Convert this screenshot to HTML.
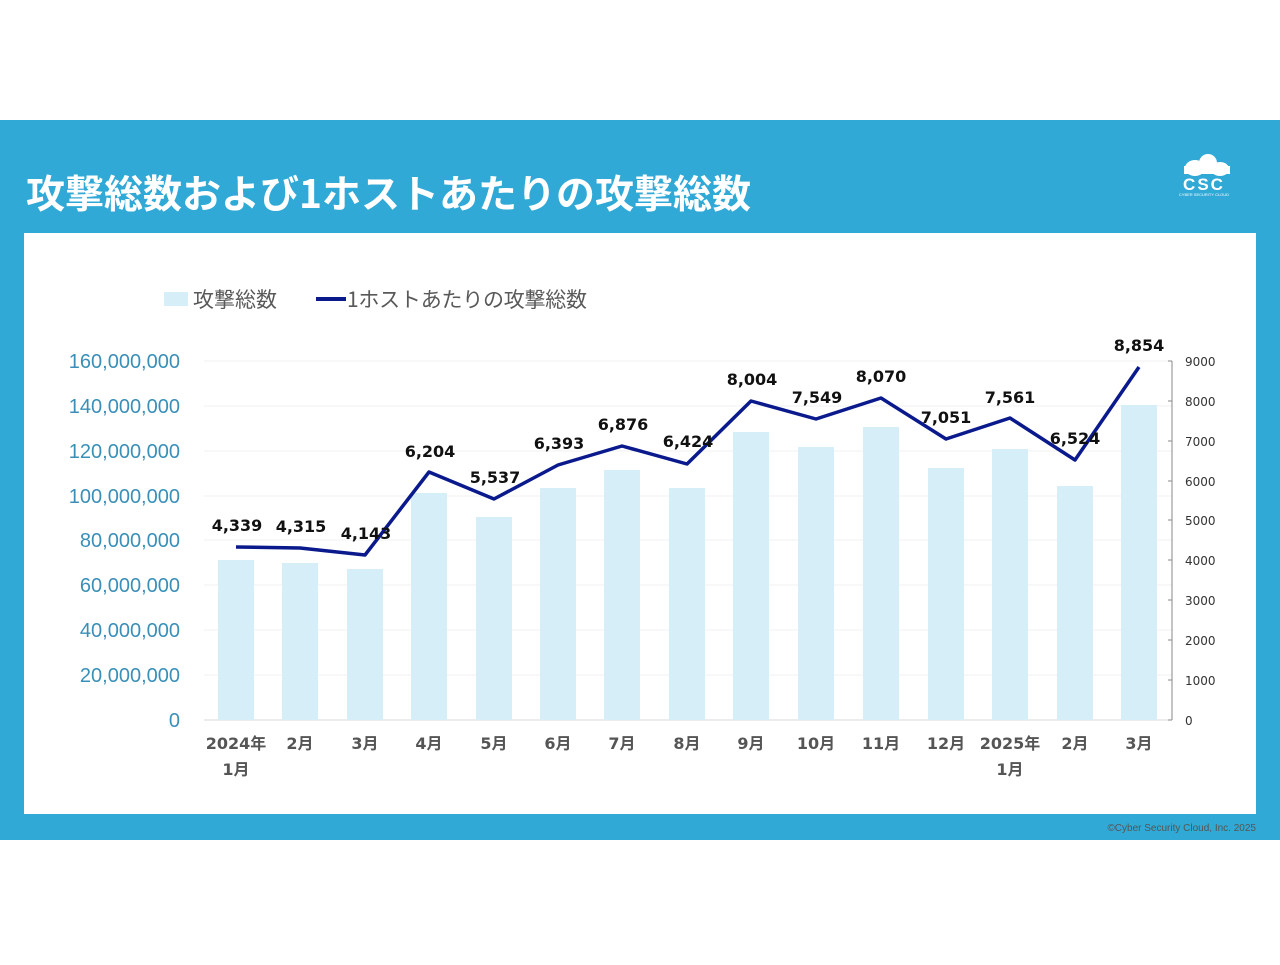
<!DOCTYPE html>
<html><head><meta charset="utf-8"><style>
body{margin:0;width:1280px;height:960px;background:#fff;overflow:hidden;font-family:"Liberation Sans","Noto Sans CJK JP",sans-serif}
</style></head><body>
<svg width="1280" height="960" xmlns="http://www.w3.org/2000/svg" font-family="Liberation Sans, Noto Sans CJK JP, sans-serif">
<rect x="0" y="120" width="1280" height="720" fill="#31a9d6"/>
<rect x="24" y="233" width="1232" height="581" fill="#fff"/>
<text x="26" y="208" font-size="39" font-weight="bold" fill="#fff" font-family="Noto Sans CJK JP, sans-serif">攻撃総数および1ホストあたりの攻撃総数</text>
<g fill="#fff">
<ellipse cx="1195" cy="168" rx="10" ry="8"/><ellipse cx="1208" cy="163" rx="9" ry="9"/><ellipse cx="1220" cy="169" rx="9" ry="7"/><rect x="1184" y="166" width="46" height="8"/>
<text x="1204" y="190" font-size="17" font-weight="bold" text-anchor="middle" letter-spacing="2">CSC</text>
<text x="1204" y="196" font-size="4" text-anchor="middle">CYBER SECURITY CLOUD</text>
</g>
<text x="1256" y="831" font-size="10" fill="#555" text-anchor="end">©Cyber Security Cloud, Inc. 2025</text>
<rect x="164" y="292" width="24" height="14" fill="#d6eef8"/>
<text x="193" y="307" font-size="21" fill="#595959" font-family="Noto Sans CJK JP, sans-serif">攻撃総数</text>
<line x1="316" y1="299" x2="346" y2="299" stroke="#0a1a8c" stroke-width="4"/>
<text x="347" y="307" font-size="21" fill="#595959" font-family="Noto Sans CJK JP, sans-serif" textLength="240">1ホストあたりの攻撃総数</text>
<g stroke="#f0f0f0" stroke-width="1">
<line x1="204" y1="361" x2="1172" y2="361"/><line x1="204" y1="406" x2="1172" y2="406"/><line x1="204" y1="451" x2="1172" y2="451"/><line x1="204" y1="496" x2="1172" y2="496"/><line x1="204" y1="540" x2="1172" y2="540"/><line x1="204" y1="585" x2="1172" y2="585"/><line x1="204" y1="630" x2="1172" y2="630"/><line x1="204" y1="675" x2="1172" y2="675"/>
</g>
<line x1="204" y1="720" x2="1172" y2="720" stroke="#d9d9d9"/>
<g font-size="20" fill="#3a8fb8" text-anchor="end">
<text x="180" y="368">160,000,000</text><text x="180" y="413">140,000,000</text><text x="180" y="458">120,000,000</text><text x="180" y="503">100,000,000</text><text x="180" y="547">80,000,000</text><text x="180" y="592">60,000,000</text><text x="180" y="637">40,000,000</text><text x="180" y="682">20,000,000</text><text x="180" y="727">0</text>
</g>
<line x1="1172" y1="361" x2="1172" y2="720" stroke="#888"/>
<g stroke="#888"><line x1="1168" y1="361" x2="1172" y2="361"/><line x1="1168" y1="401" x2="1172" y2="401"/><line x1="1168" y1="441" x2="1172" y2="441"/><line x1="1168" y1="481" x2="1172" y2="481"/><line x1="1168" y1="520" x2="1172" y2="520"/><line x1="1168" y1="560" x2="1172" y2="560"/><line x1="1168" y1="600" x2="1172" y2="600"/><line x1="1168" y1="640" x2="1172" y2="640"/><line x1="1168" y1="680" x2="1172" y2="680"/><line x1="1168" y1="720" x2="1172" y2="720"/></g>
<g font-size="12" fill="#333" font-family="DejaVu Sans, sans-serif">
<text x="1185" y="366">9000</text><text x="1185" y="406">8000</text><text x="1185" y="446">7000</text><text x="1185" y="486">6000</text><text x="1185" y="525">5000</text><text x="1185" y="565">4000</text><text x="1185" y="605">3000</text><text x="1185" y="645">2000</text><text x="1185" y="685">1000</text><text x="1185" y="725">0</text>
</g>
<g fill="#d6eef8">
<rect x="218" y="560" width="36" height="160"/><rect x="282" y="563" width="36" height="157"/><rect x="347" y="569" width="36" height="151"/><rect x="411" y="493" width="36" height="227"/><rect x="476" y="517" width="36" height="203"/><rect x="540" y="488" width="36" height="232"/><rect x="604" y="470" width="36" height="250"/><rect x="669" y="488" width="36" height="232"/><rect x="733" y="432" width="36" height="288"/><rect x="798" y="447" width="36" height="273"/><rect x="863" y="427" width="36" height="293"/><rect x="928" y="468" width="36" height="252"/><rect x="992" y="449" width="36" height="271"/><rect x="1057" y="486" width="36" height="234"/><rect x="1121" y="405" width="36" height="315"/>
</g>
<polyline fill="none" stroke="#0a1a8c" stroke-width="3.5" stroke-linejoin="round" points="236,547 300,548 365,555 429,472 494,499 558,465 622,446 687,464 751,401 816,419 881,398 946,439 1010,418 1075,460 1139,367"/>
<g font-size="16" font-weight="bold" fill="#111" text-anchor="middle" font-family="DejaVu Sans, sans-serif">
<text x="237" y="531">4,339</text><text x="301" y="532">4,315</text><text x="366" y="539">4,143</text><text x="430" y="457">6,204</text><text x="495" y="483">5,537</text><text x="559" y="449">6,393</text><text x="623" y="430">6,876</text><text x="688" y="447">6,424</text><text x="752" y="385">8,004</text><text x="817" y="403">7,549</text><text x="881" y="382">8,070</text><text x="946" y="423">7,051</text><text x="1010" y="403">7,561</text><text x="1075" y="444">6,524</text><text x="1139" y="351">8,854</text>
</g>
<g font-size="16" font-weight="bold" fill="#555" text-anchor="middle" font-family="DejaVu Sans, Noto Sans CJK JP, sans-serif">
<text x="236" y="749">2024年</text><text x="236" y="775">1月</text><text x="300" y="749">2月</text><text x="365" y="749">3月</text><text x="429" y="749">4月</text><text x="494" y="749">5月</text><text x="558" y="749">6月</text><text x="622" y="749">7月</text><text x="687" y="749">8月</text><text x="751" y="749">9月</text><text x="816" y="749">10月</text><text x="881" y="749">11月</text><text x="946" y="749">12月</text><text x="1010" y="749">2025年</text><text x="1010" y="775">1月</text><text x="1075" y="749">2月</text><text x="1139" y="749">3月</text>
</g>
</svg>
</body></html>
